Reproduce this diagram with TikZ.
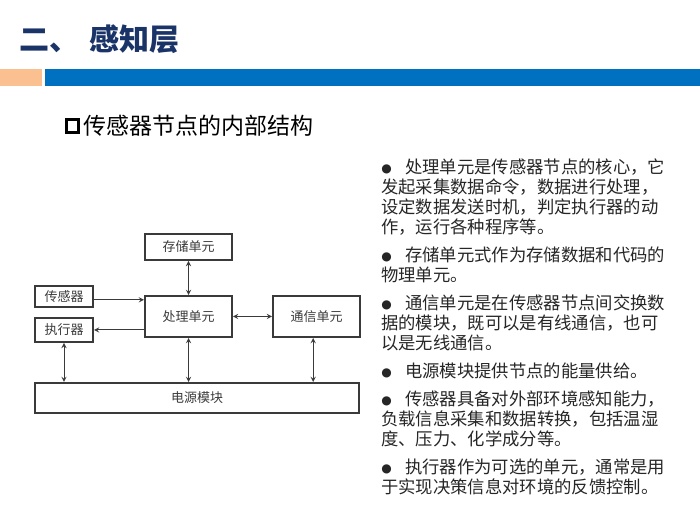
\documentclass[tikz,border=0pt]{standalone}
\usepackage{fontspec}
\newfontfamily\cjk{Noto Sans CJK SC}
\newfontfamily\symfont{DejaVu Sans}
\usetikzlibrary{arrows, positioning}
\definecolor{titlenavy}{HTML}{1B3468}
\definecolor{barblue}{HTML}{0070C0}
\definecolor{barorange}{HTML}{FAC090}
\definecolor{boxgray}{HTML}{3A3A3A}
\newcommand{\bulletmark}{\makebox[18pt][l]{\raisebox{1pt}{\symfont\fontsize{9pt}{9pt}\selectfont ●}}}

\begin{document}
\begin{tikzpicture}[x=0.75pt, y=-0.75pt, >=stealth]
\tikzstyle{unit} = [rectangle, draw=boxgray, line width=1.5pt, inner sep=0pt, text=boxgray, font=\cjk\fontsize{9.75pt}{11pt}\selectfont]
\tikzstyle{link} = [<->, draw=boxgray, line width=0.75pt]
\tikzstyle{para} = [anchor=north west, inner sep=0pt, align=left, text=black!85, font=\cjk\fontsize{13pt}{15pt}\selectfont]
\useasboundingbox (0,0) rectangle (700,523);

% header
\node (title) [anchor=west, text=titlenavy, font=\cjk\bfseries\fontsize{22.5pt}{24pt}\selectfont] at (15,39) {二、\hspace{7pt}感知层};
\fill[barorange] (0,69) rectangle (42,86);
\fill[barblue] (45,69) rectangle (700,86);
\draw[line width=2.25pt] (66.5,119.5) rectangle (78.5,132.5);
\node (sub) [anchor=west, inner sep=0pt, font=\cjk\fontsize{17.25pt}{19pt}\selectfont] at (83,126) {传感器节点的内部结构};

% node structure
\node (store) [unit, minimum width=65.25pt, minimum height=19.5pt] at (188.5,247) {存储单元};
\node (proc) [unit, minimum width=65.25pt, minimum height=30.75pt] at (188.5,316.5) {处理单元};
\node (comm) [unit, minimum width=65.25pt, minimum height=30.75pt] at (316.5,316.5) {通信单元};
\node (sens) [unit, minimum width=43.5pt, minimum height=15.75pt] at (64,296.5) {传感器};
\node (act) [unit, minimum width=43.5pt, minimum height=18pt] at (64,330) {执行器};
\node (power) [unit, minimum width=243pt, minimum height=22.5pt] at (197,398) {电源模块};

\draw[link] (store) -- (proc);
\draw[link, <-] ([yshift=-2.5pt]sens.east -| proc.west) -- ([yshift=-2.5pt]sens.east);
\draw[link, <-] (act.east) -- (act.east -| proc.west);
\draw[link] (proc) -- (comm);
\draw[link] (act.south) -- (act.south |- power.north);
\draw[link] (proc.south) -- (proc.south |- power.north);
\draw[link] ([xshift=-2.5pt]comm.south) -- ([xshift=-2.5pt]comm.south |- power.north);

% notes
\node (p1) [para] at (381,158.5) {\bulletmark 处理单元是传感器节点的核心，它\\发起采集数据命令，数据进行处理，\\设定数据发送时机，判定执行器的动\\作，运行各种程序等。};
\node (p2) [para] at (381,246.5) {\bulletmark 存储单元式作为存储数据和代码的\\物理单元。};
\node (p3) [para] at (381,294.5) {\bulletmark 通信单元是在传感器节点间交换数\\据的模块，既可以是有线通信，也可\\以是无线通信。};
\node (p4) [para] at (381,362.5) {\bulletmark 电源模块提供节点的能量供给。};
\node (p5) [para] at (381,390.5) {\bulletmark 传感器具备对外部环境感知能力，\\负载信息采集和数据转换，包括温湿\\度、压力、化学成分等。};
\node (p6) [para] at (381,458.5) {\bulletmark 执行器作为可选的单元，通常是用\\于实现决策信息对环境的反馈控制。};
\end{tikzpicture}
\end{document}
